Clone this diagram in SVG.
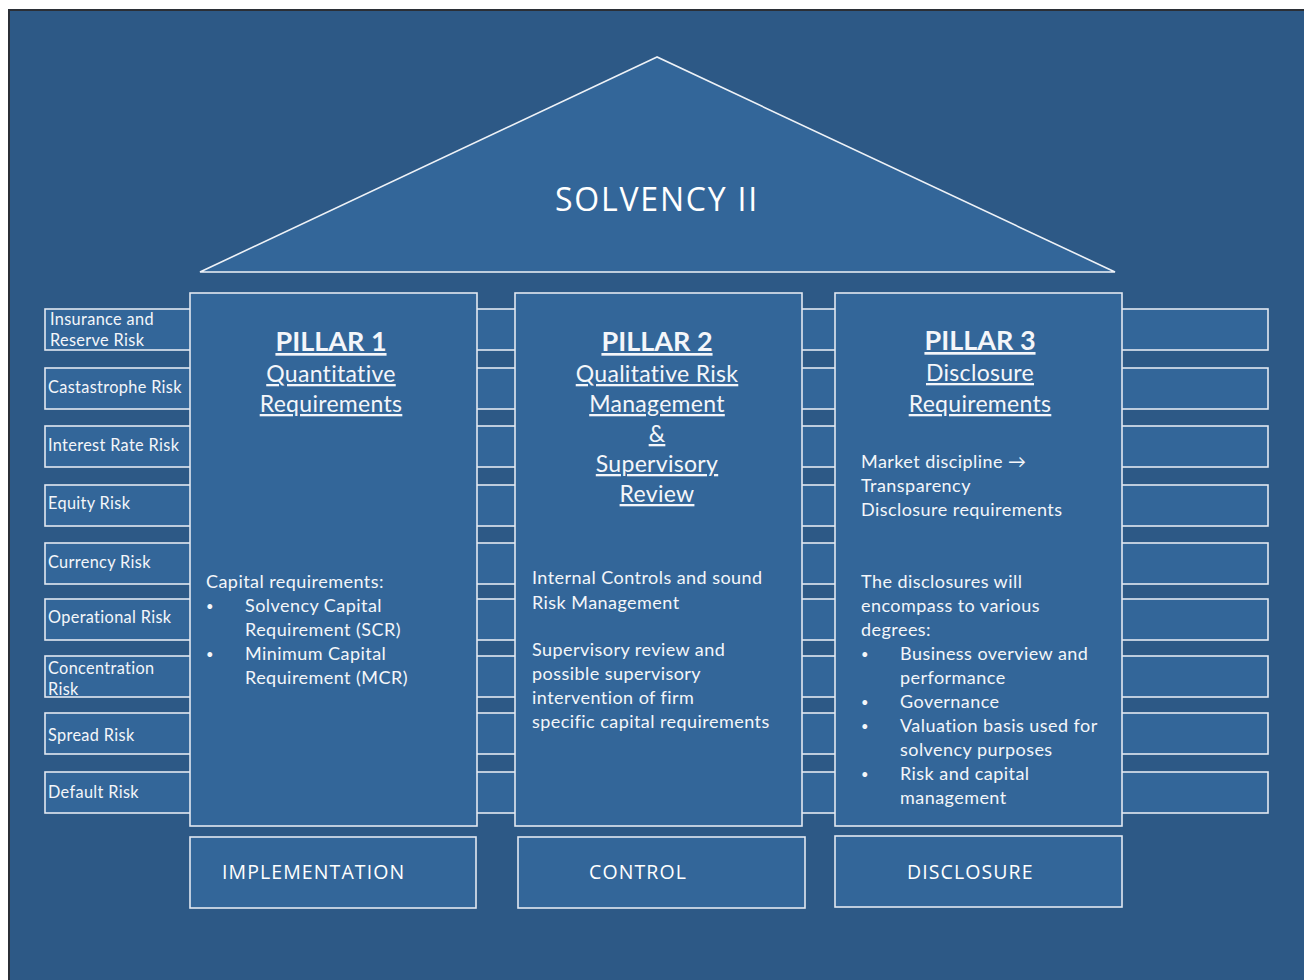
<svg xmlns="http://www.w3.org/2000/svg" width="1304" height="980" viewBox="0 0 1304 980">
<defs>
<style>
.bg{fill:#2d5986;stroke:#2b2f36;stroke-width:2}
.box{fill:#336699;stroke:#e2e8f0;stroke-width:1.6}
.bar{fill:#336699;stroke:#e2e8f0;stroke-width:1.6}
.t{font-family:Lato,"Open Sans",sans-serif;fill:#f4f6fa}
.risk{font-size:16.3px;letter-spacing:0.35px}
.title{font-size:27px;font-weight:bold;text-anchor:middle;text-decoration:underline}
.sub{font-size:23px;text-anchor:middle;text-decoration:underline;letter-spacing:0.3px}
.body{font-size:18px;letter-spacing:0.45px}
.bul{font-size:13px}
.seg{font-family:"Open Sans","Noto Sans",sans-serif;fill:#ffffff}
</style>
</defs>
<rect x="0" y="0" width="1304" height="980" fill="#ffffff"/>
<rect class="bg" x="9" y="10" width="1300" height="980"/>

<g id="roof">
<polygon points="657,57 200,272 1115,272" fill="#336699" stroke="#eef2f7" stroke-width="1.6"/>
<text class="seg" x="657" y="211" font-size="32" text-anchor="middle" letter-spacing="1.8">SOLVENCY II</text>
</g>

<g id="connectors">
<rect class="bar" x="45" y="309" width="1223" height="41"/>
<rect class="bar" x="45" y="368" width="1223" height="41"/>
<rect class="bar" x="45" y="426" width="1223" height="41"/>
<rect class="bar" x="45" y="485" width="1223" height="41"/>
<rect class="bar" x="45" y="543" width="1223" height="41"/>
<rect class="bar" x="45" y="599" width="1223" height="41"/>
<rect class="bar" x="45" y="656" width="1223" height="41"/>
<rect class="bar" x="45" y="713" width="1223" height="41"/>
<rect class="bar" x="45" y="772" width="1223" height="41"/>
</g>

<g id="risk-insurance"><text class="t risk" x="50" y="325">Insurance and</text><text class="t risk" x="50" y="346">Reserve Risk</text></g>
<g id="risk-catastrophe"><text class="t risk" x="48" y="393">Castastrophe Risk</text></g>
<g id="risk-interest"><text class="t risk" x="48" y="451">Interest Rate Risk</text></g>
<g id="risk-equity"><text class="t risk" x="48" y="509">Equity Risk</text></g>
<g id="risk-currency"><text class="t risk" x="48" y="568">Currency Risk</text></g>
<g id="risk-operational"><text class="t risk" x="48" y="623">Operational Risk</text></g>
<g id="risk-concentration"><text class="t risk" x="48" y="674">Concentration</text><text class="t risk" x="48" y="695">Risk</text></g>
<g id="risk-spread"><text class="t risk" x="48" y="741">Spread Risk</text></g>
<g id="risk-default"><text class="t risk" x="48" y="798">Default Risk</text></g>

<g id="pillar1">
<rect class="box" x="190" y="293" width="287" height="533"/>
<text class="t title" x="331" y="351">PILLAR 1</text>
<text class="t sub" x="331" y="382">Quantitative</text>
<text class="t sub" x="331" y="412">Requirements</text>
<text class="t body" x="206" y="588">Capital requirements:</text>
<text class="t bul" x="206" y="611">•</text>
<text class="t body" x="245" y="612">Solvency Capital</text>
<text class="t body" x="245" y="636">Requirement (SCR)</text>
<text class="t bul" x="206" y="659">•</text>
<text class="t body" x="245" y="660">Minimum Capital</text>
<text class="t body" x="245" y="684">Requirement (MCR)</text>
</g>

<g id="pillar2">
<rect class="box" x="515" y="293" width="287" height="533"/>
<text class="t title" x="657" y="351">PILLAR 2</text>
<text class="t sub" x="657" y="382">Qualitative Risk</text>
<text class="t sub" x="657" y="412">Management</text>
<text class="t sub" x="657" y="442">&amp;</text>
<text class="t sub" x="657" y="472">Supervisory</text>
<text class="t sub" x="657" y="502">Review</text>
<text class="t body" x="532" y="584">Internal Controls and sound</text>
<text class="t body" x="532" y="609">Risk Management</text>
<text class="t body" x="532" y="656">Supervisory review and</text>
<text class="t body" x="532" y="680">possible supervisory</text>
<text class="t body" x="532" y="704">intervention of firm</text>
<text class="t body" x="532" y="728">specific capital requirements</text>
</g>

<g id="pillar3">
<rect class="box" x="835" y="293" width="287" height="533"/>
<text class="t title" x="980" y="350">PILLAR 3</text>
<text class="t sub" x="980" y="381">Disclosure</text>
<text class="t sub" x="980" y="412">Requirements</text>
<text class="t body" x="861" y="468">Market discipline →</text>
<text class="t body" x="861" y="492">Transparency</text>
<text class="t body" x="861" y="516">Disclosure requirements</text>
<text class="t body" x="861" y="588">The disclosures will</text>
<text class="t body" x="861" y="612">encompass to various</text>
<text class="t body" x="861" y="636">degrees:</text>
<text class="t bul" x="861" y="659">•</text>
<text class="t body" x="900" y="660">Business overview and</text>
<text class="t body" x="900" y="684">performance</text>
<text class="t bul" x="861" y="707">•</text>
<text class="t body" x="900" y="708">Governance</text>
<text class="t bul" x="861" y="731">•</text>
<text class="t body" x="900" y="732">Valuation basis used for</text>
<text class="t body" x="900" y="756">solvency purposes</text>
<text class="t bul" x="861" y="779">•</text>
<text class="t body" x="900" y="780">Risk and capital</text>
<text class="t body" x="900" y="804">management</text>
</g>

<g id="implementation">
<rect class="box" x="190" y="837" width="286" height="71"/>
<text class="seg" x="222" y="879" font-size="19.5" letter-spacing="1.1">IMPLEMENTATION</text>
</g>
<g id="control">
<rect class="box" x="518" y="837" width="287" height="71"/>
<text class="seg" x="589" y="879" font-size="19.5" letter-spacing="1.1">CONTROL</text>
</g>
<g id="disclosure">
<rect class="box" x="835" y="836" width="287" height="71"/>
<text class="seg" x="907" y="879" font-size="19.5" letter-spacing="1.1">DISCLOSURE</text>
</g>
</svg>
